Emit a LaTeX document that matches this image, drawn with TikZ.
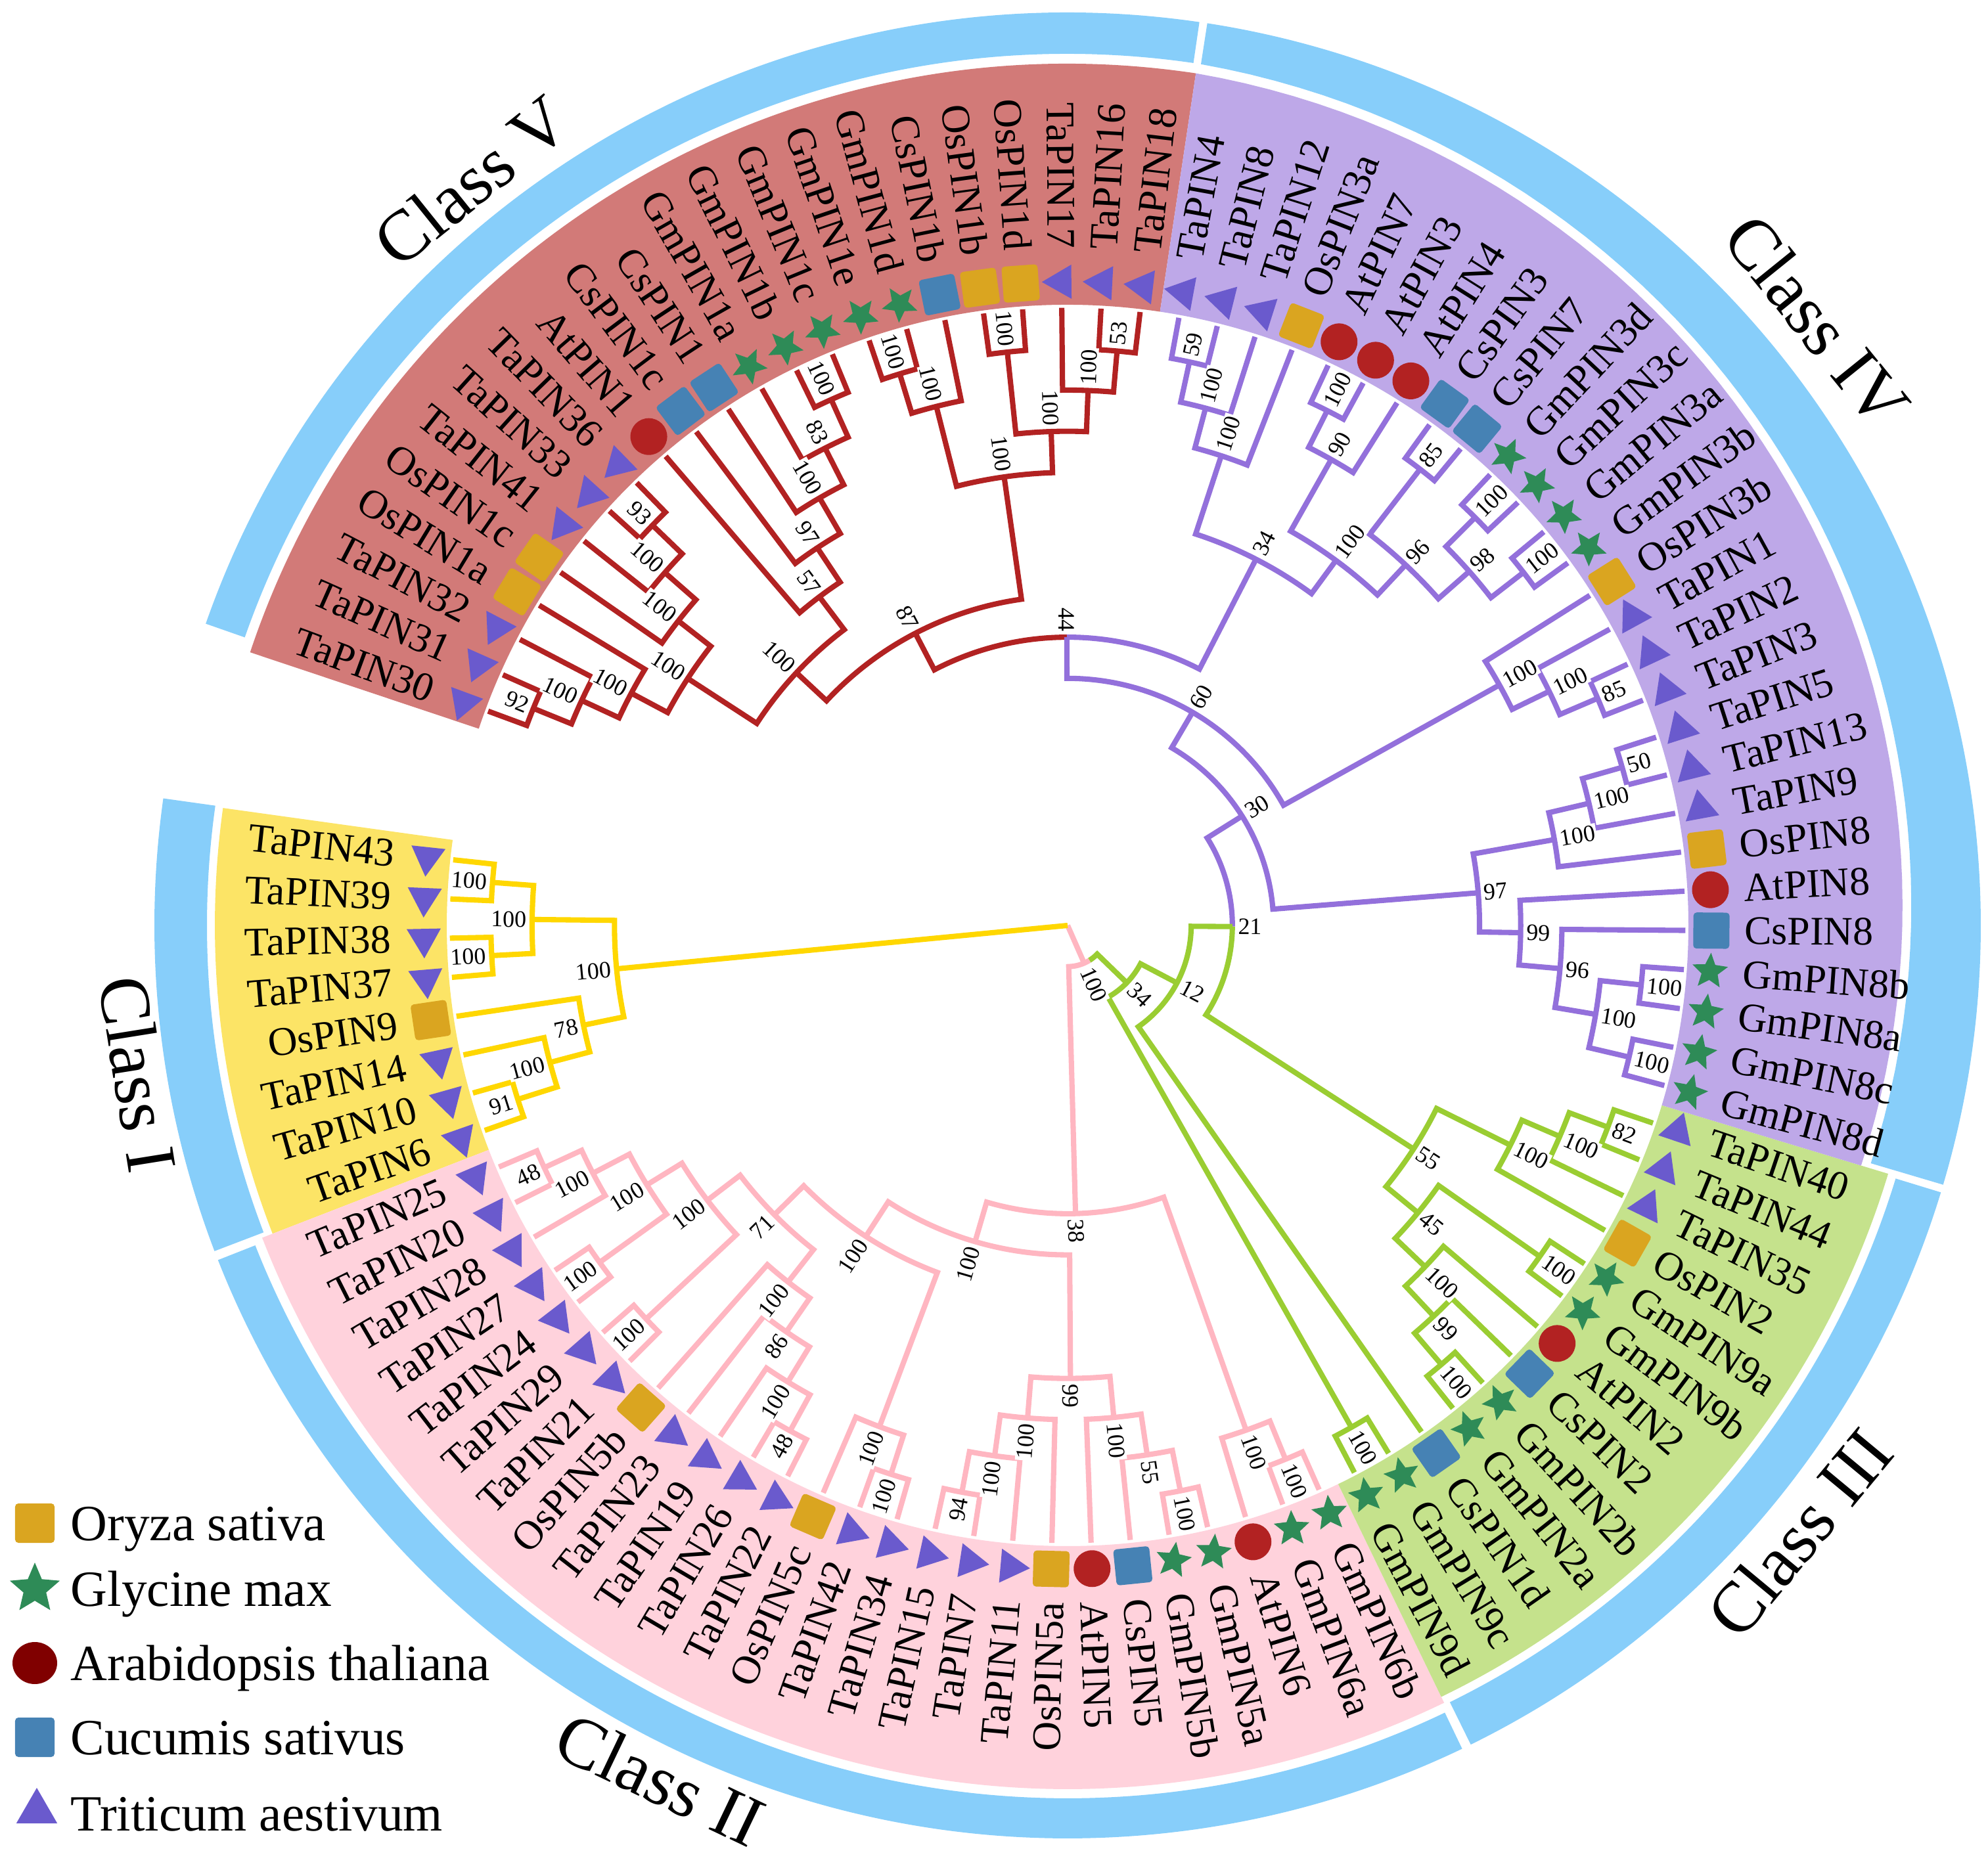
\documentclass[tikz,border=0pt]{standalone}
\usepackage{fontspec}
\setmainfont{Liberation Serif}
\usetikzlibrary{shapes.geometric}
\definecolor{cV}{RGB}{178,34,34}
\definecolor{cIV}{RGB}{147,112,219}
\definecolor{cIII}{RGB}{154,205,50}
\definecolor{cII}{RGB}{255,182,193}
\definecolor{cI}{RGB}{255,215,0}
\definecolor{bV}{RGB}{210,122,120}
\definecolor{bIV}{RGB}{190,168,232}
\definecolor{bIII}{RGB}{197,226,140}
\definecolor{bII}{RGB}{255,210,220}
\definecolor{bI}{RGB}{252,228,102}
\definecolor{ringc}{RGB}{135,206,250}
\definecolor{osc}{RGB}{218,165,32}
\definecolor{gmc}{RGB}{46,139,87}
\definecolor{atc}{RGB}{178,34,34}
\definecolor{atleg}{RGB}{128,0,0}
\definecolor{csc}{RGB}{70,130,180}
\definecolor{tac}{RGB}{106,90,205}
\newcommand\rr[1]{0.627*(15-#1)}
\newcommand\nd[6]{\draw[#1,br] (#2:{\rr{#3}}) -- (#2:{\rr{#6}}) arc[start angle=#2, end angle=#4, radius={\rr{#6}}] -- (#4:{\rr{#5}});}
\newcommand\bsR[3]{\node[bsty,anchor=west,rotate=#1] at (#1:{\rr{#2}+0.06}) {#3};}
\newcommand\bsL[3]{\node[bsty,anchor=east,rotate=#1+180] at (#1:{\rr{#2}+0.06}) {#3};}
\newcommand\symos[1]{\node[sqr,fill=osc,rotate=#1] at (#1:9.80) {};}
\newcommand\symcs[1]{\node[sqr,fill=csc,rotate=#1] at (#1:9.80) {};}
\newcommand\symat[1]{\node[crc,fill=atc] at (#1:9.80) {};}
\newcommand\symgm[1]{\node[str,fill=gmc,rotate=#1] at (#1:9.80) {};}
\newcommand\symta[1]{\node[tri,fill=tac,rotate=#1] at (#1:9.80) {};}
\tikzset{
  br/.style={line width=2.3pt},
  bsty/.style={font=\fontsize{10.2}{12}\selectfont, fill=white, inner sep=0.6pt},
  leaf/.style={font=\fontsize{17.6}{20}\selectfont, inner sep=0pt},
  classlab/.style={font=\fontsize{31}{36}\selectfont},
  legtext/.style={font=\fontsize{22}{26}\selectfont, anchor=base west, inner sep=0pt},
  sqr/.style={rectangle, minimum size=0.55cm, inner sep=0pt, rounded corners=0.05cm},
  tri/.style={regular polygon, regular polygon sides=3, minimum size=0.60cm, inner sep=0pt},
  str/.style={star, star points=5, star point ratio=2.2, minimum size=0.57cm, inner sep=0pt},
  crc/.style={circle, minimum size=0.56cm, inner sep=0pt}
}
\begin{document}
\begin{tikzpicture}[line join=miter]
\useasboundingbox (0,0) rectangle (30.26,28.40);
\begin{scope}[shift={(16.25,14.31)}]
% ---------- class bands ----------
\fill[bV] (81.44:9.45) arc[start angle=81.44,end angle=161.52,radius=9.45] -- (161.52:13.12) arc[start angle=161.52,end angle=81.44,radius=13.12] -- cycle;
\fill[bI] (172.08:9.45) arc[start angle=172.08,end angle=201.2,radius=9.45] -- (201.2:12.98) arc[start angle=201.2,end angle=172.08,radius=12.98] -- cycle;
\fill[bII] (201.2:9.45) arc[start angle=201.2,end angle=295.84,radius=9.45] -- (295.84:13.15) arc[start angle=295.84,end angle=201.2,radius=13.15] -- cycle;
\fill[bIII] (295.84:9.45) arc[start angle=295.84,end angle=343.16,radius=9.45] -- (343.16:13.05) arc[start angle=343.16,end angle=295.84,radius=13.05] -- cycle;
\fill[bIV] (-16.84:9.45) arc[start angle=-16.84,end angle=81.44,radius=9.45] -- plot[domain=81.44:-16.84,samples=60] (\x:{12.62+0.50*(\x+16.84)/98.28}) -- cycle;
% ---------- outer ring ----------
\fill[ringc] (81.7:13.90) arc[start angle=81.7,end angle=160.7,radius=13.90] -- (160.7:13.27) arc[start angle=160.7,end angle=81.7,radius=13.27] -- cycle;
\fill[ringc] (172.0:13.90) arc[start angle=172.0,end angle=200.9,radius=13.90] -- (200.9:13.10) arc[start angle=200.9,end angle=172.0,radius=13.10] -- cycle;
\fill[ringc] (201.5:13.90) arc[start angle=201.5,end angle=295.6,radius=13.90] -- (295.6:13.29) arc[start angle=295.6,end angle=201.5,radius=13.29] -- cycle;
\fill[ringc] (296.2:13.90) arc[start angle=296.2,end angle=343.0,radius=13.90] -- (343.0:13.18) arc[start angle=343.0,end angle=296.2,radius=13.18] -- cycle;
\fill[ringc] (-16.5:13.90) arc[start angle=-16.5,end angle=81.2,radius=13.90] -- plot[domain=81.2:-16.5,samples=60] (\x:{12.75+0.52*(\x+16.84)/98.28}) -- cycle;
% ---------- class labels ----------
\node[classlab,rotate=38.7] at (128.7:14.52) {Class V};
\node[classlab,rotate=-51.1] at (38.9:14.66) {Class IV};
\node[classlab,rotate=50.3] at (-39.7:14.48) {Class III};
\node[classlab,rotate=-25.5] at (-115.5:14.40) {Class II};
\node[classlab,rotate=-80.9] at (189.1:14.33) {Class I};
% ---------- Class I ----------
\nd{cI}{173.90}{0}{177.54}{0}{1}
\nd{cI}{181.18}{0}{184.82}{0}{1}
\nd{cI}{175.72}{1}{183.00}{1}{2}
\nd{cI}{195.74}{0}{199.38}{0}{1}
\nd{cI}{192.10}{0}{197.56}{1}{2}
\nd{cI}{188.46}{0}{194.83}{2}{3}
\nd{cI}{179.36}{2}{191.645}{3}{4}
% ---------- Class II ----------
\nd{cII}{-156.98}{0}{-153.34}{0}{1}
\nd{cII}{-155.16}{1}{-149.70}{0}{2}
\nd{cII}{-146.06}{0}{-142.42}{0}{1}
\nd{cII}{-152.43}{2}{-144.24}{1}{3}
\nd{cII}{-138.78}{0}{-135.14}{0}{1}
\nd{cII}{-148.335}{3}{-136.96}{1}{4}
\nd{cII}{-120.58}{0}{-116.94}{0}{1}
\nd{cII}{-124.22}{0}{-118.76}{1}{2}
\nd{cII}{-127.86}{0}{-121.49}{2}{3}
\nd{cII}{-131.50}{0}{-124.675}{3}{4}
\nd{cII}{-142.65}{4}{-128.09}{4}{5}
\nd{cII}{-109.66}{0}{-106.02}{0}{1}
\nd{cII}{-113.30}{0}{-107.84}{1}{2}
\nd{cII}{-135.37}{5}{-110.57}{2}{6}
\nd{cII}{-102.38}{0}{-98.74}{0}{1}
\nd{cII}{-100.56}{1}{-95.10}{0}{2}
\nd{cII}{-97.83}{2}{-91.46}{0}{3}
\nd{cII}{-80.54}{0}{-76.90}{0}{1}
\nd{cII}{-84.18}{0}{-78.72}{1}{2}
\nd{cII}{-87.82}{0}{-81.45}{2}{3}
\nd{cII}{-94.645}{3}{-84.635}{3}{4}
\nd{cII}{-122.97}{6}{-89.64}{4}{7}
\nd{cII}{-69.62}{0}{-65.98}{0}{1}
\nd{cII}{-73.26}{0}{-67.80}{1}{2}
\nd{cII}{-106.305}{7}{-70.53}{2}{8}
% ---------- Class III ----------
\nd{cIII}{-22.30}{0}{-18.66}{0}{1}
\nd{cIII}{-25.94}{0}{-20.48}{1}{2}
\nd{cIII}{-29.58}{0}{-23.21}{2}{3}
\nd{cIII}{-36.86}{0}{-33.22}{0}{1}
\nd{cIII}{-51.42}{0}{-47.78}{0}{1}
\nd{cIII}{-49.60}{1}{-44.14}{0}{2}
\nd{cIII}{-46.87}{2}{-40.50}{0}{3}
\nd{cIII}{-43.685}{3}{-35.04}{1}{4}
\nd{cIII}{-39.3625}{4}{-26.395}{3}{5}
\nd{cIII}{-62.34}{0}{-58.70}{0}{1}
% ---------- Class V ----------
\nd{cV}{159.70}{0}{156.06}{0}{1}
\nd{cV}{157.88}{1}{152.42}{0}{2}
\nd{cV}{155.15}{2}{148.78}{0}{3}
\nd{cV}{137.86}{0}{134.22}{0}{1}
\nd{cV}{141.50}{0}{136.04}{1}{2}
\nd{cV}{145.14}{0}{138.77}{2}{3}
\nd{cV}{151.965}{3}{141.955}{3}{4}
\nd{cV}{116.02}{0}{112.38}{0}{1}
\nd{cV}{119.66}{0}{114.20}{1}{2}
\nd{cV}{123.30}{0}{116.93}{2}{3}
\nd{cV}{126.94}{0}{120.115}{3}{4}
\nd{cV}{130.58}{0}{123.5275}{4}{5}
\nd{cV}{146.96}{4}{127.054}{5}{6}
\nd{cV}{108.74}{0}{105.10}{0}{1}
\nd{cV}{106.92}{1}{101.46}{0}{2}
\nd{cV}{97.82}{0}{94.18}{0}{1}
\nd{cV}{86.90}{0}{83.26}{0}{1}
\nd{cV}{90.54}{0}{85.08}{1}{2}
\nd{cV}{96.00}{1}{87.81}{2}{3}
\nd{cV}{104.19}{2}{91.905}{3}{4}
\nd{cV}{137.007}{6}{98.0475}{4}{7}
% ---------- Class IV ----------
\nd{cIV}{79.62}{0}{75.98}{0}{1}
\nd{cIV}{77.80}{1}{72.34}{0}{2}
\nd{cIV}{75.07}{2}{68.70}{0}{3}
\nd{cIV}{65.06}{0}{61.42}{0}{1}
\nd{cIV}{63.24}{1}{57.78}{0}{2}
\nd{cIV}{54.14}{0}{50.50}{0}{1}
\nd{cIV}{46.86}{0}{43.22}{0}{1}
\nd{cIV}{39.58}{0}{35.94}{0}{1}
\nd{cIV}{45.04}{1}{37.76}{1}{2}
\nd{cIV}{52.32}{1}{41.40}{2}{3}
\nd{cIV}{60.51}{2}{46.86}{3}{4}
\nd{cIV}{71.885}{3}{53.685}{4}{5}
\nd{cIV}{25.02}{0}{21.38}{0}{1}
\nd{cIV}{28.66}{0}{23.20}{1}{2}
\nd{cIV}{32.30}{0}{25.93}{2}{3}
\nd{cIV}{17.74}{0}{14.10}{0}{1}
\nd{cIV}{15.92}{1}{10.46}{0}{2}
\nd{cIV}{13.19}{2}{6.82}{0}{3}
\nd{cIV}{-4.10}{0}{-7.74}{0}{1}
\nd{cIV}{-11.38}{0}{-15.02}{0}{1}
\nd{cIV}{-5.92}{1}{-13.20}{1}{2}
\nd{cIV}{-0.46}{0}{-9.56}{2}{3}
\nd{cIV}{3.18}{0}{-5.01}{3}{4}
\nd{cIV}{10.005}{3}{-0.915}{4}{5}
% ---------- backbone ----------
\draw[cV,br] (117.527:{\rr{7}}) -- (117.527:{\rr{8}}) arc[start angle=117.527,end angle=90.156,radius={\rr{8}}];
\draw[cIV,br] (90.156:{\rr{8}}) arc[start angle=90.156,end angle=62.785,radius={\rr{8}}] -- (62.785:{\rr{5}});
\nd{cIV}{90.156}{8}{29.115}{3}{9}
\nd{cIV}{59.6355}{9}{4.545}{5}{10}
\draw[cIV,br] (32.09:{\rr{10}}) -- (32.09:{\rr{11}}) arc[start angle=32.09,end angle=-0.3945,radius={\rr{11}}];
\draw[cIII,br] (-0.3945:{\rr{11}}) arc[start angle=-0.3945,end angle=-32.879,radius={\rr{11}}] -- (-32.879:{\rr{5}});
\nd{cIII}{-0.3945}{11}{-55.06}{0}{12}
\nd{cIII}{-27.727}{12}{-60.52}{1}{13}
\draw[cIII,br] (-44.12:{\rr{13}}) -- (-44.12:{\rr{14}}) arc[start angle=-44.12,end angle=-58,radius={\rr{14}}];
\draw[cII,br] (-58:{\rr{14}}) arc[start angle=-58,end angle=-88.42,radius={\rr{14}}] -- (-88.42:{\rr{8}});
\draw[cII,br] (0,0) -- (-66.27:{\rr{14}});
\draw[cI,br] (0,0) -- (185.5:{\rr{4}});
% ---------- bootstrap values ----------
\bsL{175.72}{1}{100}
\bsL{183.00}{1}{100}
\bsL{179.36}{2}{100}
\bsL{197.56}{1}{91}
\bsL{194.83}{2}{100}
\bsL{191.645}{3}{78}
\bsL{185.50}{4}{100}
\bsL{-155.16}{1}{48}
\bsL{-152.43}{2}{100}
\bsL{-144.24}{1}{100}
\bsL{-148.335}{3}{100}
\bsL{-136.96}{1}{100}
\bsL{-142.65}{4}{100}
\bsL{-118.76}{1}{48}
\bsL{-121.49}{2}{100}
\bsL{-124.675}{3}{86}
\bsL{-128.09}{4}{100}
\bsL{-135.37}{5}{71}
\bsL{-107.84}{1}{100}
\bsL{-110.57}{2}{100}
\bsL{-122.97}{6}{100}
\bsL{-100.56}{1}{94}
\bsL{-97.83}{2}{100}
\bsL{-94.645}{3}{100}
\bsR{-78.72}{1}{100}
\bsR{-81.45}{2}{55}
\bsR{-84.635}{3}{100}
\bsR{-89.64}{4}{99}
\bsL{-106.305}{7}{100}
\bsR{-67.80}{1}{100}
\bsR{-70.53}{2}{100}
\bsR{-88.42}{8}{38}
\bsR{-20.48}{1}{82}
\bsR{-23.21}{2}{100}
\bsR{-26.395}{3}{100}
\bsR{-35.04}{1}{100}
\bsR{-49.60}{1}{100}
\bsR{-46.87}{2}{99}
\bsR{-43.685}{3}{100}
\bsR{-39.3625}{4}{45}
\bsR{-32.879}{5}{55}
\bsR{-60.52}{1}{100}
\bsL{157.88}{1}{92}
\bsL{155.15}{2}{100}
\bsL{151.965}{3}{100}
\bsL{136.04}{1}{93}
\bsL{138.77}{2}{100}
\bsL{141.955}{3}{100}
\bsL{146.96}{4}{100}
\bsL{114.20}{1}{100}
\bsL{116.93}{2}{83}
\bsL{120.115}{3}{100}
\bsL{123.5275}{4}{97}
\bsL{127.054}{5}{57}
\bsL{137.007}{6}{100}
\bsL{106.92}{1}{100}
\bsL{104.19}{2}{100}
\bsL{96.00}{1}{100}
\bsR{85.08}{1}{53}
\bsR{87.81}{2}{100}
\bsL{91.905}{3}{100}
\bsL{98.0475}{4}{100}
\bsL{117.527}{7}{87}
\bsR{77.80}{1}{59}
\bsR{75.07}{2}{100}
\bsR{71.885}{3}{100}
\bsR{63.24}{1}{100}
\bsR{60.51}{2}{90}
\bsR{52.32}{1}{85}
\bsR{45.04}{1}{100}
\bsR{37.76}{1}{100}
\bsR{41.40}{2}{98}
\bsR{46.86}{3}{96}
\bsR{53.685}{4}{100}
\bsR{62.785}{5}{34}
\bsR{23.20}{1}{85}
\bsR{25.93}{2}{100}
\bsR{29.115}{3}{100}
\bsR{15.92}{1}{50}
\bsR{13.19}{2}{100}
\bsR{10.005}{3}{100}
\bsR{-5.92}{1}{100}
\bsR{-13.20}{1}{100}
\bsR{-9.56}{2}{100}
\bsR{-5.01}{3}{96}
\bsR{-0.915}{4}{99}
\bsR{4.545}{5}{97}
\bsL{90.156}{8}{44}
\bsR{59.6355}{9}{60}
\bsR{32.09}{10}{30}
\bsR{-0.3945}{11}{21}
\bsR{-27.727}{12}{12}
\bsR{-44.12}{13}{34}
\bsR{-66.27}{14}{100}
% ---------- leaves ----------
\foreach \nm/\sy [count=\k from 0] in {TaPIN30/ta,TaPIN31/ta,TaPIN32/ta,OsPIN1a/os,OsPIN1c/os,TaPIN41/ta,TaPIN33/ta,TaPIN36/ta,AtPIN1/at,CsPIN1c/cs,CsPIN1/cs,GmPIN1a/gm,GmPIN1b/gm,GmPIN1c/gm,GmPIN1e/gm,GmPIN1d/gm,CsPIN1b/cs,OsPIN1b/os,OsPIN1d/os,TaPIN17/ta,TaPIN16/ta,TaPIN18/ta,%
TaPIN4/ta,TaPIN8/ta,TaPIN12/ta,OsPIN3a/os,AtPIN7/at,AtPIN3/at,AtPIN4/at,CsPIN3/cs,CsPIN7/cs,GmPIN3d/gm,GmPIN3c/gm,GmPIN3a/gm,GmPIN3b/gm,OsPIN3b/os,TaPIN1/ta,TaPIN2/ta,TaPIN3/ta,TaPIN5/ta,TaPIN13/ta,TaPIN9/ta,OsPIN8/os,AtPIN8/at,CsPIN8/cs,GmPIN8b/gm,GmPIN8a/gm,GmPIN8c/gm,GmPIN8d/gm,%
TaPIN40/ta,TaPIN44/ta,TaPIN35/ta,OsPIN2/os,GmPIN9a/gm,GmPIN9b/gm,AtPIN2/at,CsPIN2/cs,GmPIN2b/gm,GmPIN2a/gm,CsPIN1d/cs,GmPIN9c/gm,GmPIN9d/gm,%
GmPIN6b/gm,GmPIN6a/gm,AtPIN6/at,GmPIN5a/gm,GmPIN5b/gm,CsPIN5/cs,AtPIN5/at,OsPIN5a/os,TaPIN11/ta,TaPIN7/ta,TaPIN15/ta,TaPIN34/ta,TaPIN42/ta,OsPIN5c/os,TaPIN22/ta,TaPIN26/ta,TaPIN19/ta,TaPIN23/ta,OsPIN5b/os,TaPIN21/ta,TaPIN29/ta,TaPIN24/ta,TaPIN27/ta,TaPIN28/ta,TaPIN20/ta,TaPIN25/ta,%
TaPIN6/ta,TaPIN10/ta,TaPIN14/ta,OsPIN9/os,TaPIN37/ta,TaPIN38/ta,TaPIN39/ta,TaPIN43/ta}{%
  \pgfmathsetmacro\tha{159.7-3.64*\k}%
  \pgfmathtruncatemacro\lft{(\tha>90)||(\tha<-90)}%
  \csname sym\sy\endcsname{\tha}%
  \ifnum\lft=1
    \node[leaf,anchor=east,rotate=\tha+180] at (\tha:10.30) {\nm};%
  \else
    \node[leaf,anchor=west,rotate=\tha] at (\tha:10.30) {\nm};%
  \fi
}
\end{scope}
% ---------- legend ----------
\node[sqr,fill=osc,minimum size=0.60cm] (lg1) at (0.53,5.21) {};
\node[legtext] at (1.07,4.95) {Oryza sativa};
\node[star,star points=5,star point ratio=2.2,minimum size=0.80cm,inner sep=0pt,fill=gmc] (lg2) at (0.53,4.21) {};
\node[legtext] at (1.07,3.95) {Glycine max};
\node[ellipse,minimum width=0.68cm,minimum height=0.64cm,inner sep=0pt,fill=atleg] (lg3) at (0.53,3.08) {};
\node[legtext] at (1.07,2.82) {Arabidopsis thaliana};
\node[sqr,fill=csc,minimum size=0.60cm] (lg4) at (0.53,1.95) {};
\node[legtext] at (1.07,1.69) {Cucumis sativus};
\node[regular polygon,regular polygon sides=3,minimum size=0.72cm,inner sep=0pt,fill=tac] (lg5) at (0.56,0.82) {};
\node[legtext] at (1.07,0.53) {Triticum aestivum};
\end{tikzpicture}
\end{document}
